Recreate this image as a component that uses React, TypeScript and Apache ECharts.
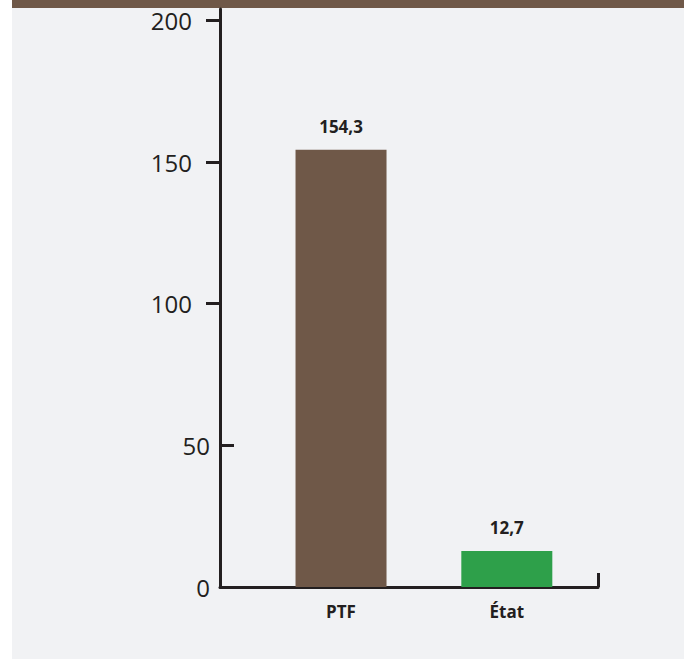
import React, { useEffect, useRef } from "react";
import * as echarts from "echarts";

// Bars
const categories = ["PTF", "État"];
const values = [154.3, 12.7];
const barColors = ["#6f5848", "#2ea04a"];

// Y axis ticks: most ticks sit outside the axis line, the 50 tick sits inside
const yTicksOutside = [100, 150, 200];
const yTicksInside = [50];
const yLabelsFar = [100, 150, 200];
const yLabelsNear = [0, 50];

const W = 684;
const H = 659;
const INK = "#231f20";
const FONT = "'Open Sans', 'Noto Sans', sans-serif";

export default function App() {
  const ref = useRef<HTMLDivElement>(null);

  useEffect(() => {
    document.body.style.margin = "0";
    if (!ref.current) return;
    const chart = echarts.init(ref.current, null, { renderer: "svg" });

    const yMin = 0;
    const yMax = 204;
    const xMin = -0.73;
    const xMax = 1.55;

    chart.setOption({
      animation: false,
      backgroundColor: "#ffffff",
      graphic: [
        { type: "rect", z: -10, shape: { x: 12, y: 0, width: W - 12, height: H }, style: { fill: "#f1f2f4" } },
        { type: "rect", z: -9, shape: { x: 12, y: 0, width: W - 12, height: 8 }, style: { fill: "#6f5848" } },
      ],
      grid: { left: 220, right: W - 598, top: 9, bottom: H - 587, containLabel: false },
      xAxis: {
        type: "value",
        min: xMin,
        max: xMax,
        splitLine: { show: false },
        axisLine: { show: true, onZero: false, lineStyle: { color: INK, width: 3 } },
        axisTick: {
          show: true,
          inside: true,
          length: 14,
          customValues: [xMax],
          lineStyle: { color: INK, width: 3 },
        },
        axisLabel: {
          show: true,
          customValues: categories.map((_, i) => i),
          formatter: (v: number) => categories[Math.round(v)] ?? "",
          margin: 16,
          color: INK,
          fontFamily: FONT,
          fontWeight: "bold",
          fontSize: 17,
        },
      },
      yAxis: [
        {
          type: "value",
          position: "left",
          min: yMin,
          max: yMax,
          splitLine: { show: false },
          axisLine: { show: true, onZero: false, lineStyle: { color: INK, width: 3 } },
          axisTick: {
            show: true,
            length: 14,
            customValues: yTicksOutside,
            lineStyle: { color: INK, width: 3 },
          },
          axisLabel: {
            customValues: yLabelsFar,
            margin: 28,
            color: INK,
            fontFamily: FONT,
            fontSize: 24,
          },
        },
        {
          type: "value",
          position: "left",
          offset: 0,
          min: yMin,
          max: yMax,
          splitLine: { show: false },
          axisLine: { show: false, onZero: false },
          axisTick: {
            show: true,
            inside: true,
            length: 14,
            customValues: yTicksInside,
            lineStyle: { color: INK, width: 3 },
          },
          axisLabel: {
            customValues: yLabelsNear,
            margin: 10,
            color: INK,
            fontFamily: FONT,
            fontSize: 24,
          },
        },
      ],
      series: [
        {
          type: "bar",
          xAxisIndex: 0,
          yAxisIndex: 0,
          barWidth: 91,
          data: values.map((v, i) => ({
            value: [i, v],
            itemStyle: { color: barColors[i] },
          })),
          label: {
            show: true,
            position: "top",
            distance: 15,
            formatter: (p: any) => String(p.value[1]).replace(".", ","),
            color: INK,
            fontFamily: FONT,
            fontWeight: "bold",
            fontSize: 17,
          },
        },
      ],
    });

    return () => chart.dispose();
  }, []);

  return <div ref={ref} style={{ width: W, height: H }} />;
}
